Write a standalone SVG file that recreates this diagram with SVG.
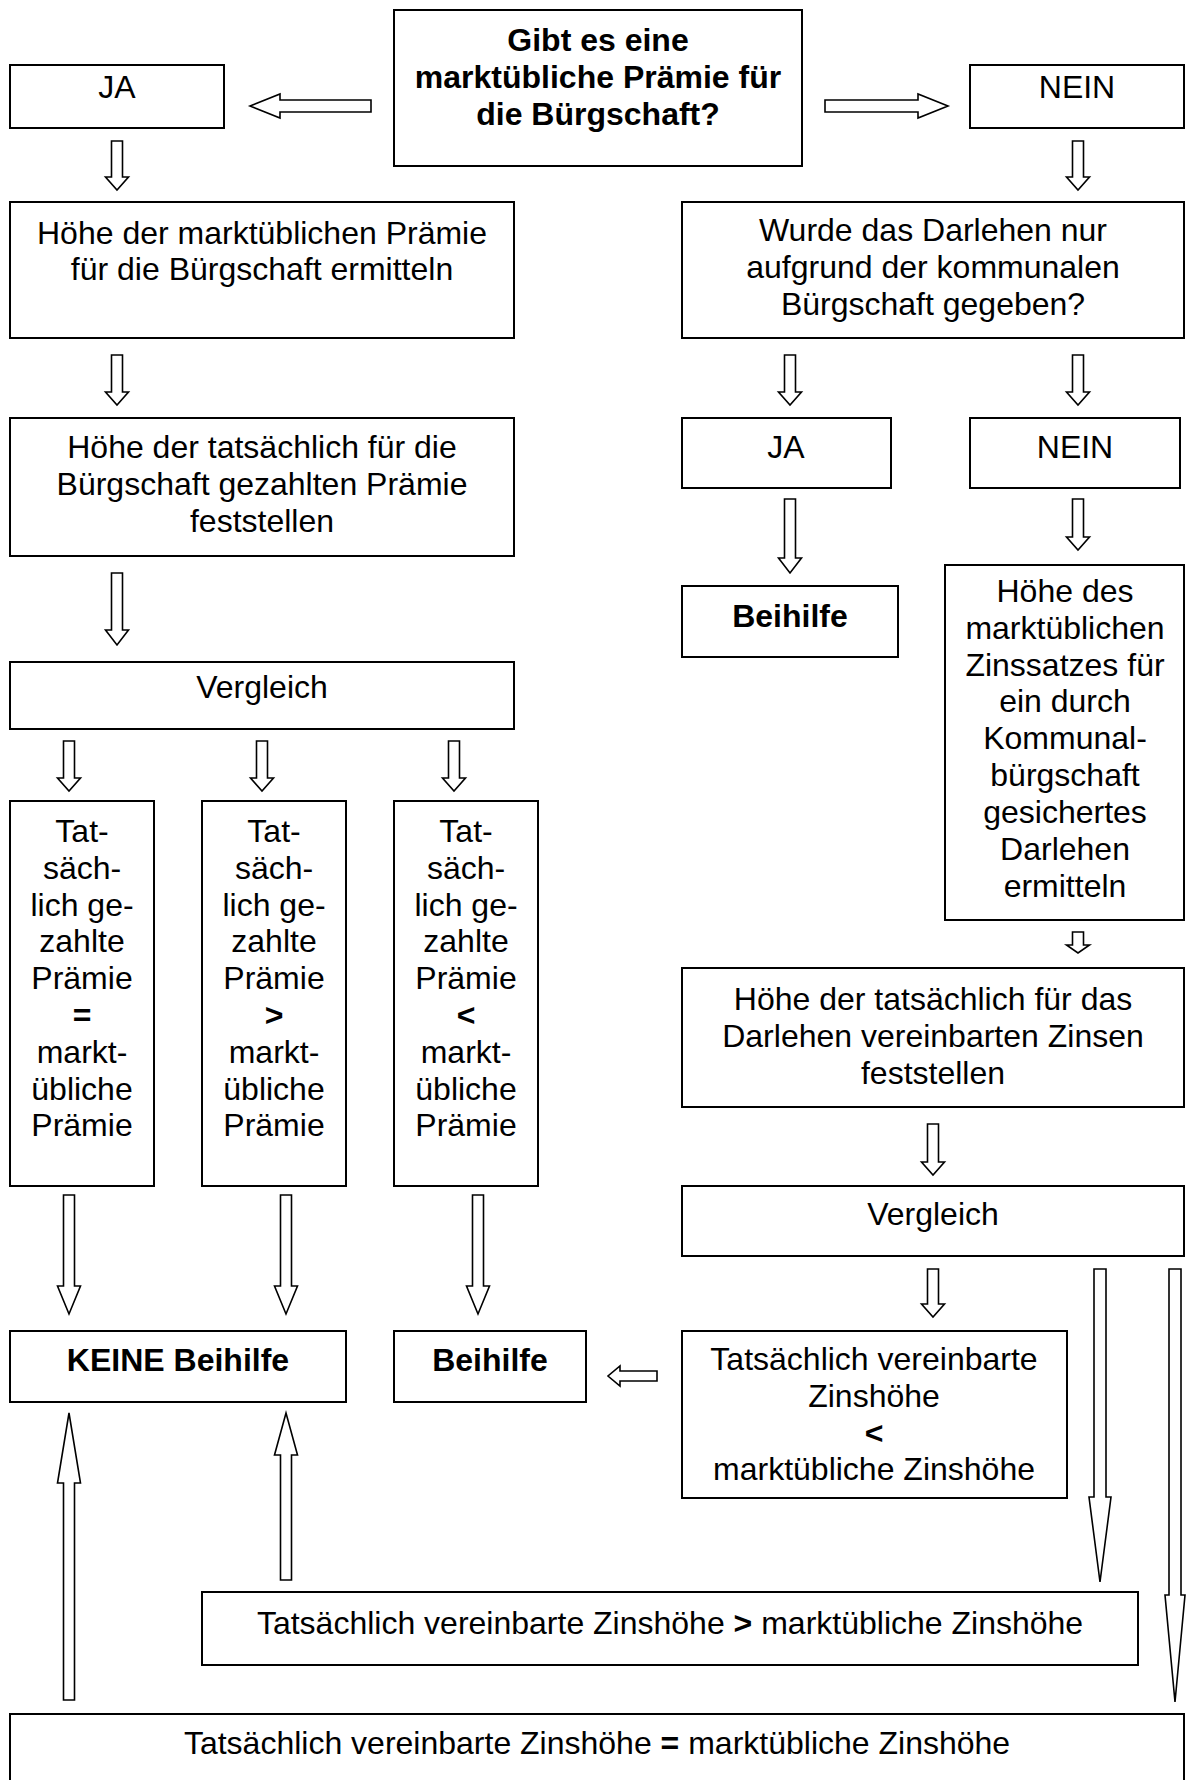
<svg xmlns="http://www.w3.org/2000/svg" width="1186" height="1780" viewBox="0 0 1186 1780">
<style>
.box{fill:#fff;stroke:#000;stroke-width:2}
.ar{fill:#fff;stroke:#000;stroke-width:1.6;stroke-linejoin:miter}
text{font-family:"Liberation Sans",Arial,sans-serif;font-size:32px;fill:#000;text-anchor:middle}
.b{font-weight:bold}
</style>
<rect width="1186" height="1780" fill="#fff"/>
<g id="frage"><rect class="box" x="394" y="10" width="408" height="156"/>
<text class="b" x="598" y="51">Gibt es eine</text><text class="b" x="598" y="88">marktübliche Prämie für</text><text class="b" x="598" y="125">die Bürgschaft?</text></g>
<g id="ja1"><rect class="box" x="10" y="65" width="214" height="63"/><text x="117" y="98">JA</text></g>
<g id="nein1"><rect class="box" x="970" y="65" width="214" height="63"/><text x="1077" y="98">NEIN</text></g>
<g id="hoehe-markt"><rect class="box" x="10" y="202" width="504" height="136"/>
<text x="262" y="244">Höhe der marktüblichen Prämie</text><text x="262" y="280">für die Bürgschaft ermitteln</text></g>
<g id="wurde"><rect class="box" x="682" y="202" width="502" height="136"/>
<text x="933" y="241">Wurde das Darlehen nur</text><text x="933" y="278">aufgrund der kommunalen</text><text x="933" y="315">Bürgschaft gegeben?</text></g>
<g id="hoehe-tats"><rect class="box" x="10" y="418" width="504" height="138"/>
<text x="262" y="458">Höhe der tatsächlich für die</text><text x="262" y="495">Bürgschaft gezahlten Prämie</text><text x="262" y="532">feststellen</text></g>
<g id="ja2"><rect class="box" x="682" y="418" width="209" height="70"/><text x="786" y="458">JA</text></g>
<g id="nein2"><rect class="box" x="970" y="418" width="210" height="70"/><text x="1075" y="458">NEIN</text></g>
<g id="beihilfe1"><rect class="box" x="682" y="586" width="216" height="71"/><text class="b" x="790" y="627">Beihilfe</text></g>
<g id="hoehe-zins"><rect class="box" x="945" y="565" width="239" height="355"/>
<text x="1065" y="602">Höhe des</text><text x="1065" y="639">marktüblichen</text><text x="1065" y="676">Zinssatzes für</text><text x="1065" y="712">ein durch</text><text x="1065" y="749">Kommunal-</text><text x="1065" y="786">bürgschaft</text><text x="1065" y="823">gesichertes</text><text x="1065" y="860">Darlehen</text><text x="1065" y="897">ermitteln</text></g>
<g id="vergleich1"><rect class="box" x="10" y="662" width="504" height="67"/><text x="262" y="698">Vergleich</text></g>
<g id="gleich"><rect class="box" x="10" y="801" width="144" height="385"/>
<text x="82" y="842">Tat-</text><text x="82" y="879">säch-</text><text x="82" y="916">lich ge-</text><text x="82" y="952">zahlte</text><text x="82" y="989">Prämie</text><text class="b" x="82" y="1026">=</text><text x="82" y="1063">markt-</text><text x="82" y="1100">übliche</text><text x="82" y="1136">Prämie</text></g>
<g id="groesser"><rect class="box" x="202" y="801" width="144" height="385"/>
<text x="274" y="842">Tat-</text><text x="274" y="879">säch-</text><text x="274" y="916">lich ge-</text><text x="274" y="952">zahlte</text><text x="274" y="989">Prämie</text><text class="b" x="274" y="1026">&gt;</text><text x="274" y="1063">markt-</text><text x="274" y="1100">übliche</text><text x="274" y="1136">Prämie</text></g>
<g id="kleiner"><rect class="box" x="394" y="801" width="144" height="385"/>
<text x="466" y="842">Tat-</text><text x="466" y="879">säch-</text><text x="466" y="916">lich ge-</text><text x="466" y="952">zahlte</text><text x="466" y="989">Prämie</text><text class="b" x="466" y="1026">&lt;</text><text x="466" y="1063">markt-</text><text x="466" y="1100">übliche</text><text x="466" y="1136">Prämie</text></g>
<g id="hoehe-tats-zins"><rect class="box" x="682" y="968" width="502" height="139"/>
<text x="933" y="1010">Höhe der tatsächlich für das</text><text x="933" y="1047">Darlehen vereinbarten Zinsen</text><text x="933" y="1084">feststellen</text></g>
<g id="vergleich2"><rect class="box" x="682" y="1186" width="502" height="70"/><text x="933" y="1225">Vergleich</text></g>
<g id="keine"><rect class="box" x="10" y="1331" width="336" height="71"/><text class="b" x="178" y="1371">KEINE Beihilfe</text></g>
<g id="beihilfe2"><rect class="box" x="394" y="1331" width="192" height="71"/><text class="b" x="490" y="1371">Beihilfe</text></g>
<g id="zins-kleiner"><rect class="box" x="682" y="1331" width="385" height="167"/>
<text x="874" y="1370">Tatsächlich vereinbarte</text><text x="874" y="1407">Zinshöhe</text><text class="b" x="874" y="1444">&lt;</text><text x="874" y="1480">marktübliche Zinshöhe</text></g>
<g id="zins-groesser"><rect class="box" x="202" y="1592" width="936" height="73"/>
<text x="670" y="1634">Tatsächlich vereinbarte Zinshöhe <tspan class="b">&gt;</tspan> marktübliche Zinshöhe</text></g>
<g id="zins-gleich"><rect class="box" x="10" y="1714" width="1174" height="80"/>
<text x="597" y="1754">Tatsächlich vereinbarte Zinshöhe <tspan class="b">=</tspan> marktübliche Zinshöhe</text></g>
<g id="connectors">
<polygon class="ar" points="371,100 371,112 280,112 280,118 250,106 280,94 280,100"/>
<polygon class="ar" points="825,100 825,112 918,112 918,118 948,106 918,94 918,100"/>
<polygon class="ar" points="111.5,141 122.5,141 122.5,177 128.5,177 117,190 105.5,177 111.5,177"/>
<polygon class="ar" points="1072.5,141 1083.5,141 1083.5,177 1089.5,177 1078,190 1066.5,177 1072.5,177"/>
<polygon class="ar" points="111.5,355 122.5,355 122.5,392 128.5,392 117,405 105.5,392 111.5,392"/>
<polygon class="ar" points="784.5,355 795.5,355 795.5,392 801.5,392 790,405 778.5,392 784.5,392"/>
<polygon class="ar" points="1072.5,355 1083.5,355 1083.5,392 1089.5,392 1078,405 1066.5,392 1072.5,392"/>
<polygon class="ar" points="111.5,573 122.5,573 122.5,630 128.5,630 117,645 105.5,630 111.5,630"/>
<polygon class="ar" points="784.5,499 795.5,499 795.5,558 801.5,558 790,573 778.5,558 784.5,558"/>
<polygon class="ar" points="1072.5,499 1083.5,499 1083.5,537 1089.5,537 1078,550 1066.5,537 1072.5,537"/>
<polygon class="ar" points="63.5,741 74.5,741 74.5,778 80.5,778 69,791 57.5,778 63.5,778"/>
<polygon class="ar" points="256.5,741 267.5,741 267.5,778 273.5,778 262,791 250.5,778 256.5,778"/>
<polygon class="ar" points="448.5,741 459.5,741 459.5,778 465.5,778 454,791 442.5,778 448.5,778"/>
<polygon class="ar" points="1072.5,932 1083.5,932 1083.5,945 1089.5,945 1078,953 1066.5,945 1072.5,945"/>
<polygon class="ar" points="927.5,1124 938.5,1124 938.5,1162 944.5,1162 933,1175 921.5,1162 927.5,1162"/>
<polygon class="ar" points="927.5,1269 938.5,1269 938.5,1304 944.5,1304 933,1317 921.5,1304 927.5,1304"/>
<polygon class="ar" points="1094,1269 1106,1269 1106,1497 1111,1497 1100,1582 1089,1497 1094,1497"/>
<polygon class="ar" points="1169,1269 1181,1269 1181,1595 1185,1595 1175,1702 1165,1595 1169,1595"/>
<polygon class="ar" points="63.5,1195 74.5,1195 74.5,1286 80.5,1286 69,1314 57.5,1286 63.5,1286"/>
<polygon class="ar" points="280.5,1195 291.5,1195 291.5,1286 297.5,1286 286,1314 274.5,1286 280.5,1286"/>
<polygon class="ar" points="472.5,1195 483.5,1195 483.5,1286 489.5,1286 478,1314 466.5,1286 472.5,1286"/>
<polygon class="ar" points="657,1371 657,1381 620,1381 620,1386 608,1376 620,1366 620,1371"/>
<polygon class="ar" points="63.5,1700 74.5,1700 74.5,1483 80.5,1483 69,1413 57.5,1483 63.5,1483"/>
<polygon class="ar" points="280.5,1580 291.5,1580 291.5,1455 297.5,1455 286,1413 274.5,1455 280.5,1455"/>
</g>
</svg>
